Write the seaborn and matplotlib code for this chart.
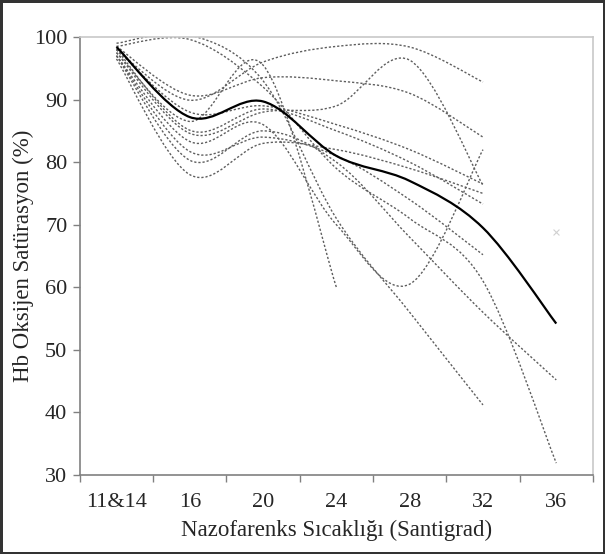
import matplotlib.pyplot as plt
from matplotlib.path import Path
from matplotlib.patches import PathPatch
import seaborn as sns

categories = ['11&14', '16', '20', '24', '28', '32', '36']

# ortalama egri (kalin siyah)
mean_sat = [98.4, 87.2, 89.7, 81.0, 77.0, 69.5, 54.2]

# hasta egrileri (noktali), None = olcum yok
p_a = [98.0, 89.9, 96.0, 98.5, 98.4, 92.8, None]
p_b = [98.5, 90.7, 93.5, 93.0, 91.0, 84.0, None]
p_c = [97.5, 84.6, 88.0, 89.0, 96.3, 76.3, None]
p_d = [97.0, 83.3, 86.0, 70.0, 60.5, 82.0, None]
p_e = [98.0, 85.1, 88.5, 85.0, 80.0, 73.3, None]
p_f = [97.5, 86.5, 95.5, 60.0, None, None, None]
p_g = [99.0, 100.3, 93.0, 71.0, 56.0, 41.2, None]
p_h = [98.5, 99.6, 92.0, 79.0, 71.0, 61.0, 31.9]
p_i = [97.0, 80.3, 85.0, 80.0, 68.0, 56.0, 45.2]
p_j = [97.0, 81.7, 84.0, 81.0, 74.0, 65.2, None]
p_k = [96.5, 78.0, 83.0, 82.0, 79.0, 75.0, None]
p_l = [98.0, 88.0, 89.0, 86.0, 82.0, 76.5, None]
patients = [p_a, p_b, p_c, p_d, p_e, p_f, p_g, p_h, p_i, p_j, p_k, p_l]

stray_cat = ['36']
stray_val = [68.8]


def smooth_path(values):
    # Excel tarzi yumusatilmis cizgi (kubik Bezier)
    pts = [(i, v) for i, v in enumerate(values) if v is not None]
    n = len(pts)
    verts = [pts[0]]
    codes = [Path.MOVETO]
    for k in range(n - 1):
        p0 = pts[max(k - 1, 0)]
        p1 = pts[k]
        p2 = pts[k + 1]
        p3 = pts[min(k + 2, n - 1)]
        c1 = (p1[0] + (p2[0] - p0[0]) / 6, p1[1] + (p2[1] - p0[1]) / 6)
        c2 = (p2[0] - (p3[0] - p1[0]) / 6, p2[1] - (p3[1] - p1[1]) / 6)
        verts += [c1, c2, p2]
        codes += [Path.CURVE4] * 3
    return Path(verts, codes)


sns.set_style('ticks')
plt.rcParams['font.family'] = ['Liberation Serif', 'DejaVu Serif']

fig = plt.figure(figsize=(6.05, 5.54), dpi=100, edgecolor='#333333', linewidth=2.5)
ax = fig.add_axes([0.132, 0.1426, 0.848, 0.7906])

for p in patients:
    ax.add_patch(PathPatch(smooth_path(p), fill=False, edgecolor='#5e5e5e',
                           linewidth=1.0, linestyle=(0, (1.6, 1.4))))
ax.add_patch(PathPatch(smooth_path(mean_sat), fill=False, edgecolor='black',
                       linewidth=1.6, zorder=5))

sns.scatterplot(x=[categories.index(c) for c in stray_cat], y=stray_val, marker='x',
                color='#d0d0d0', s=18, linewidth=0.8, ax=ax)

ax.set_xlim(-0.5, 6.5)
ax.set_ylim(30, 100)
ax.set_xticks(range(len(categories)))
ax.set_xticklabels(categories)
ax.set_xticks([i - 0.5 for i in range(len(categories) + 1)], minor=True)
ax.tick_params(axis='x', which='major', length=0, pad=13, labelsize=16)
ax.tick_params(axis='x', which='minor', length=5, width=1, color='#808080', direction='out')
ax.set_yticks(range(30, 101, 10))
ax.tick_params(axis='y', length=5, width=1, color='#808080', pad=4, labelsize=16)

for s in ['left', 'bottom']:
    ax.spines[s].set_color('#808080')
    ax.spines[s].set_linewidth(1.2)
for s in ['top', 'right']:
    ax.spines[s].set_color('#c8c8c8')
    ax.spines[s].set_linewidth(1.2)

ax.set_xlabel('Nazofarenks Sıcaklığı (Santigrad)', fontsize=16.5)
ax.set_ylabel('Hb Oksijen Satürasyon (%)', fontsize=16.5)
ax.xaxis.set_label_coords(0.5, -0.103)
ax.yaxis.set_label_coords(-0.09, 0.5)

fig.savefig('out.png', dpi=100)
